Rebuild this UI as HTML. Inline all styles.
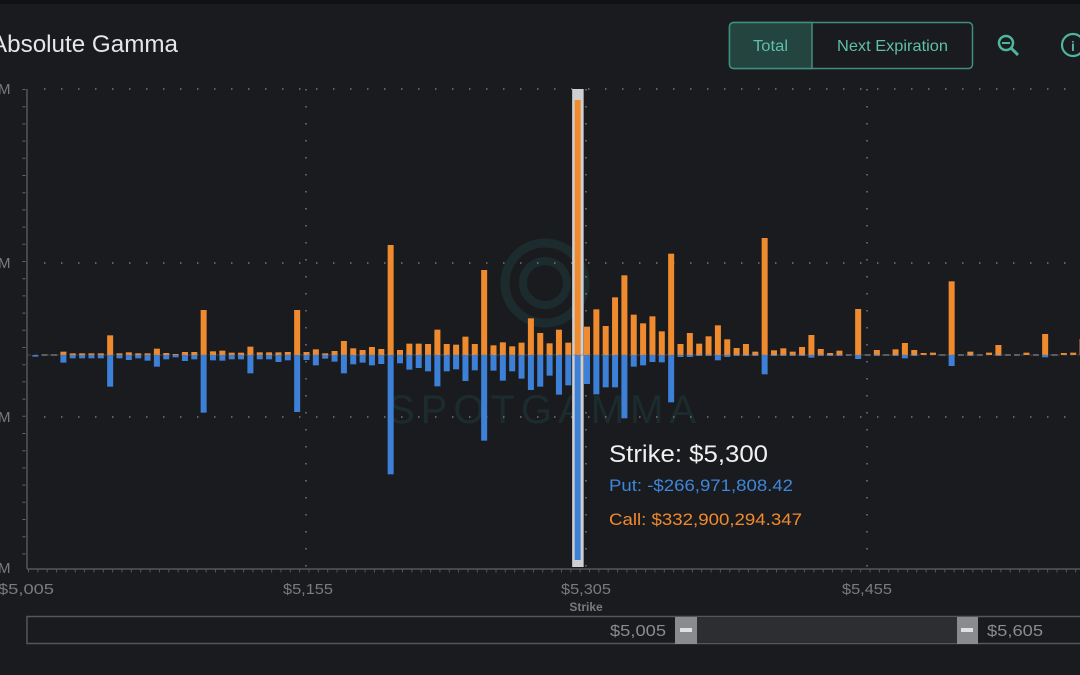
<!DOCTYPE html>
<html><head><meta charset="utf-8"><style>
html,body{margin:0;padding:0;background:#1a1b1e;}
body{width:1080px;height:675px;overflow:hidden;position:relative;font-family:"Liberation Sans",sans-serif;}
</style></head><body>
<svg id="s" width="1080" height="675" xmlns="http://www.w3.org/2000/svg" style="position:absolute;left:0;top:0">
<rect x="0" y="0" width="1080" height="675" fill="#1a1b1e"/>
<rect x="0" y="0" width="1080" height="4" fill="#111214"/>
<text x="-9" y="52" fill="#e6e6e6" font-size="24" textLength="187" lengthAdjust="spacingAndGlyphs">Absolute Gamma</text>
<rect x="729.5" y="22.5" width="243" height="46" rx="4" fill="#1a1b1e" stroke="#3f8f80" stroke-width="1.5"/>
<path d="M733.5 22.5 H812 V68.5 H733.5 a4 4 0 0 1 -4 -4 V26.5 a4 4 0 0 1 4 -4z" fill="#24443f" stroke="#3f8f80" stroke-width="1.5"/>
<text x="753" y="51" fill="#5fbfa9" font-size="16" textLength="35" lengthAdjust="spacingAndGlyphs">Total</text>
<text x="837" y="51" fill="#5fbfa9" font-size="16" textLength="111" lengthAdjust="spacingAndGlyphs">Next Expiration</text>
<circle cx="1006" cy="43" r="7" fill="none" stroke="#4fb59e" stroke-width="2.5"/>
<line x1="1002" y1="43" x2="1010" y2="43" stroke="#4fb59e" stroke-width="2"/>
<line x1="1011" y1="48" x2="1018" y2="55" stroke="#4fb59e" stroke-width="3"/>
<circle cx="1073" cy="45" r="11" fill="none" stroke="#4fb59e" stroke-width="2.2"/>
<text x="1073" y="51" fill="#4fb59e" font-size="14" font-weight="bold" text-anchor="middle">i</text>
<g opacity="0.55">
<circle cx="545" cy="283" r="40" fill="none" stroke="#1f3a3c" stroke-width="9"/>
<circle cx="545" cy="283" r="22" fill="none" stroke="#1f3a3c" stroke-width="8"/>
<text x="388" y="423" fill="#1f3a3c" font-size="40" letter-spacing="6">SPOTGAMMA</text>
</g>
<g id="grid" stroke="#77787c" stroke-width="1.5" stroke-dasharray="1.5 15.5" fill="none">
<line x1="44" y1="89" x2="1080" y2="89"/>
<line x1="44" y1="263" x2="1080" y2="263"/>
<line x1="44" y1="417" x2="1080" y2="417"/>
<line x1="306" y1="89" x2="306" y2="567"/>
<line x1="586" y1="89" x2="586" y2="567"/>
<line x1="867" y1="89" x2="867" y2="567"/>
</g>
<line x1="27" y1="89" x2="27" y2="569" stroke="#55565a" stroke-width="1.5"/>
<line x1="24" y1="89" x2="24" y2="569" stroke="#66676b" stroke-width="3" stroke-dasharray="1 16.2"/>
<line x1="27" y1="569" x2="1080" y2="569" stroke="#55565a" stroke-width="1.5"/>
<line x1="28" y1="571" x2="1080" y2="571" stroke="#55565a" stroke-width="3" stroke-dasharray="1 8.35"/>
<g fill="#7a7b7f" font-size="15">
<text x="-2" y="94">M</text><text x="-2" y="268">M</text><text x="-2" y="422">M</text><text x="-2" y="573">M</text>
<text x="-2" y="594" textLength="56" lengthAdjust="spacingAndGlyphs">$5,005</text>
<text x="283" y="594" textLength="50" lengthAdjust="spacingAndGlyphs">$5,155</text>
<text x="561" y="594" textLength="50" lengthAdjust="spacingAndGlyphs">$5,305</text>
<text x="842" y="594" textLength="50" lengthAdjust="spacingAndGlyphs">$5,455</text>
<text x="586" y="611" text-anchor="middle" font-size="12" font-weight="bold">Strike</text>
</g>
<g id="bars"></g>
<text x="609" y="462" fill="#f0f0f0" font-size="24" textLength="159" lengthAdjust="spacingAndGlyphs">Strike: $5,300</text>
<text x="609" y="491" fill="#3d86dc" font-size="17" textLength="184" lengthAdjust="spacingAndGlyphs">Put: -$266,971,808.42</text>
<text x="609" y="525" fill="#f08a2f" font-size="17" textLength="193" lengthAdjust="spacingAndGlyphs">Call: $332,900,294.347</text>
<rect x="27" y="616.5" width="1060" height="27" fill="#1a1b1e" stroke="#55565a" stroke-width="1.5"/>
<rect x="697" y="617" width="260" height="26" fill="#2d2e32"/>
<rect x="675" y="617" width="22" height="27" fill="#8a8b8e"/>
<rect x="680" y="628" width="12" height="4" fill="#e0e0e0"/>
<rect x="957" y="617" width="21" height="27" fill="#8a8b8e"/>
<rect x="961" y="628" width="12" height="4" fill="#e0e0e0"/>
<text x="610" y="636" fill="#8a8b8e" font-size="16" textLength="56" lengthAdjust="spacingAndGlyphs">$5,005</text>
<text x="987" y="636" fill="#8a8b8e" font-size="16" textLength="56" lengthAdjust="spacingAndGlyphs">$5,605</text>
</svg>
<script>
var d=[[375,380],[375,375],[375,375],[365,398],[370,385],[370,385],[370,385],[370,385],[316,470],[370,385],[367,390],[370,385],[370,392],[356,410],[369,388],[372,382],[366,393],[366,388],[240,548],[364,391],[362,392],[368,388],[368,388],[350,430],[367,388],[367,388],[367,396],[366,391],[240,546],[366,390],[358,406],[370,386],[363,395],[333,430],[355,403],[360,398],[351,406],[357,402],[45,733],[360,400],[341,419],[341,414],[342,424],[299,469],[342,424],[344,418],[320,453],[342,421],[120,632],[346,422],[337,452],[349,424],[338,446],[265,480],[309,470],[340,437],[299,494],[338,466],null,[290,462],[238,493],[288,472],[202,472],[136,565],[254,410],[280,406],[259,396],[304,397],[71,517],[342,381],[309,381],[341,378],[319,378],[286,391],[328,381],[354,378],[342,378],[365,378],[24,433],[361,378],[355,378],[365,378],[351,378],[315,383],[357,378],[369,378],[362,378],[372,375],[237,387],[372,375],[360,378],[372,375],[358,378],[339,385],[360,378],[369,375],[368,375],[373,375],[154,408],[374,375],[365,378],[375,375],[368,375],[345,378],[371,375],[375,375],[368,375],[375,375],[312,382],[375,375],[369,375],[368,375],[327,375]];
var g=document.getElementById('bars'),h='';
var Z=355;
for(var i=1;i<=d.length;i++){
 var x=26+i*9.35-3;
 if(i==59){
  h+='<rect x="'+(x-2.5)+'" y="89" width="11.5" height="478" fill="#cfcfcf"/>';
  h+='<rect x="'+x+'" y="100" width="6" height="'+(Z-100)+'" fill="#f08a2f"/>';
  h+='<rect x="'+x+'" y="'+Z+'" width="6" height="'+(560-Z)+'" fill="#3d80d8"/>';
  continue;}
 var v=d[i-1];
 var oh=125-v[0]/3, bh=v[1]/3-125;
 if(oh<1.5&&bh<1.5){h+='<rect x="'+x+'" y="'+(Z-1)+'" width="6" height="2" fill="#5a5b5f"/>';continue;}
 if(oh>0.5)h+='<rect x="'+x+'" y="'+(Z-oh)+'" width="6" height="'+oh+'" fill="#f08a2f"/>';
 if(bh>0.5)h+='<rect x="'+x+'" y="'+Z+'" width="6" height="'+bh+'" fill="#3d80d8"/>';
}
h+='<line x1="27" y1="355" x2="1080" y2="355" stroke="#6a6b6f" stroke-width="1" stroke-dasharray="4 3" opacity="0.5"/>';
g.innerHTML=h;
</script>
</body></html>
